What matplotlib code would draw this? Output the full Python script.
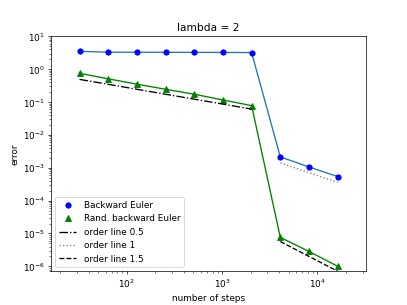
import matplotlib
matplotlib.use("Agg")
import matplotlib.pyplot as plt

steps = [32, 64, 128, 256, 512, 1024, 2048, 4096, 8192, 16384]
err_backward = [3.5, 3.3, 3.28, 3.27, 3.25, 3.25, 3.2, 2.14e-3, 1.06e-3, 5.4e-4]
err_rand = [0.75, 0.51, 0.35, 0.245, 0.173, 0.116, 0.078, 7.6e-6, 2.84e-6, 1.0e-6]

order05_steps = [32, 64, 128, 256, 512, 1024, 2048]
order05_vals = [0.49, 0.347, 0.245, 0.173, 0.1225, 0.0866, 0.061]
order1_steps = [4096, 8192, 16384]
order1_vals = [1.41e-3, 7.1e-4, 3.6e-4]
order15_steps = [4096, 8192, 16384]
order15_vals = [5.7e-6, 2.0e-6, 7.1e-7]

fig = plt.figure(figsize=(6.4, 4.8), dpi=63.6)
ax = fig.add_subplot(111)

ax.loglog(steps, err_backward, color="C0")
ax.loglog(steps, err_rand, color="g")
ax.loglog(steps, err_backward, "bo", label="Backward Euler")
ax.loglog(steps, err_rand, "g^", label="Rand. backward Euler")
ax.loglog(order05_steps, order05_vals, "k-.", label="order line 0.5")
ax.loglog(order1_steps, order1_vals, ":", color="gray", label="order line 1")
ax.loglog(order15_steps, order15_vals, "k--", label="order line 1.5")

ax.set_xlim(16, 32768)
ax.set_ylim(7e-7, 10)
ax.set_xlabel("number of steps")
ax.set_ylabel("error")
ax.set_title("lambda = 2")
ax.legend(loc="lower left")

fig.savefig("out.png", dpi=63.6)
